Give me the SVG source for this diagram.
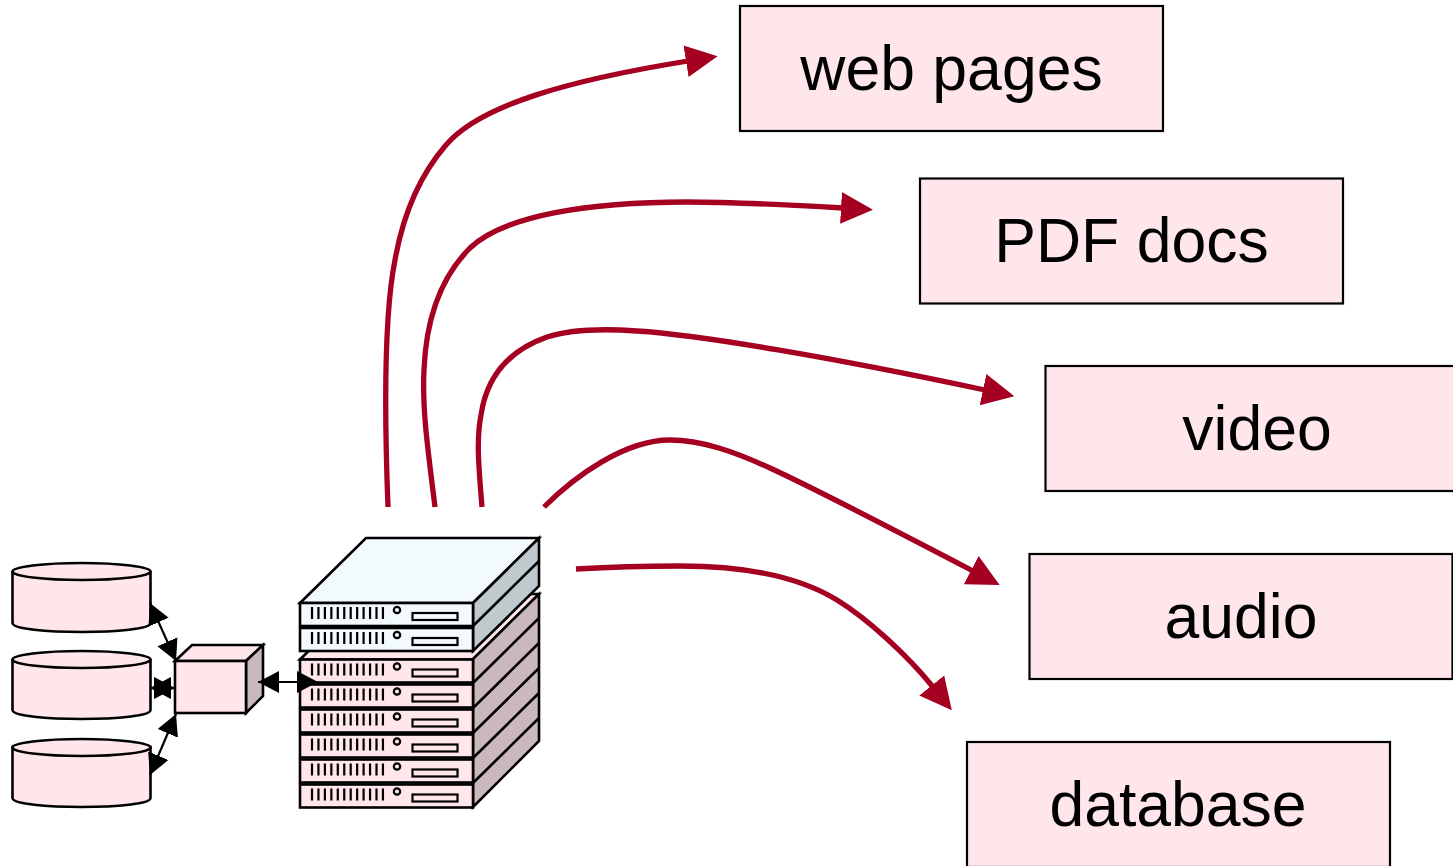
<svg xmlns="http://www.w3.org/2000/svg" xmlns:xlink="http://www.w3.org/1999/xlink" width="1453" height="866" viewBox="0 0 1453 866">
<style>
.box{fill:#FFE6EA;stroke:#000;stroke-width:2.2}
.lbl{font-family:"Liberation Sans",Arial,sans-serif;font-size:62.500px;fill:#000;text-anchor:middle}
.s{stroke:#000;stroke-width:2.600;stroke-linejoin:miter}
.pink{fill:#FFE6EA}.blue{fill:#F2FAFE}.pside{fill:#CBB8BC}.bside{fill:#BFC9CE}
.slot{stroke:#000;stroke-width:2.200;fill:none}
.curve{fill:none;stroke:#A50021;stroke-width:5.300}
.link{fill:none;stroke:#000;stroke-width:2.200}
</style>
<defs>
<marker id="red" markerUnits="userSpaceOnUse" markerWidth="34" markerHeight="36" refX="2" refY="18" orient="auto"><path d="M0,2 L32,18 L0,34 Z" fill="#A50021"/></marker>
<marker id="blk" markerUnits="userSpaceOnUse" markerWidth="24" markerHeight="24" refX="21" refY="12" orient="auto-start-reverse"><path d="M0,1 L21,12 L0,23 Z" fill="#000"/></marker>
<g id="face">
<path d="M12,4V16M18.450,4V16M24.900,4V16M31.350,4V16M37.800,4V16M44.250,4V16M50.700,4V16M57.150,4V16M63.600,4V16M70.050,4V16M76.500,4V16M82.950,4V16" class="slot"/>
<circle cx="97" cy="7" r="3.200" fill="none" stroke="#000" stroke-width="2.200"/>
<rect x="112.500" y="10" width="45" height="7" fill="none" stroke="#000" stroke-width="2.200"/>
</g>
<rect id="pplate" width="173" height="23" class="pink s"/>
<rect id="bplate" width="173" height="23" class="blue s"/>
</defs>
<g id="boxes">
<g id="web-pages"><rect class="box" x="740" y="6" width="423" height="125"/><text class="lbl" x="951.500" y="89.500">web pages</text></g>
<g id="pdf-docs"><rect class="box" x="920" y="178.500" width="423" height="125"/><text class="lbl" x="1131.500" y="261.500">PDF docs</text></g>
<g id="video"><rect class="box" x="1045.500" y="366" width="423" height="125"/><text class="lbl" x="1257" y="449.500">video</text></g>
<g id="audio"><rect class="box" x="1029.500" y="554" width="423" height="125"/><text class="lbl" x="1241" y="637.500">audio</text></g>
<g id="database"><rect class="box" x="967" y="742" width="423" height="125"/><text class="lbl" x="1178" y="825.500">database</text></g>
</g>
<g id="db1"><path class="pink s" d="M12.500,572 V623 C12.500,635 150.500,635 150.500,623 V572 Z"/><ellipse class="pink s" cx="81.500" cy="571.500" rx="69" ry="8.500"/></g>
<g id="db2"><path class="pink s" d="M12.500,660 V710 C12.500,722 150.500,722 150.500,710 V660 Z"/><ellipse class="pink s" cx="81.500" cy="659.500" rx="69" ry="8.500"/></g>
<g id="db3"><path class="pink s" d="M12.500,747 V798 C12.500,810 150.500,810 150.500,798 V747 Z"/><ellipse class="pink s" cx="81.500" cy="747.500" rx="69" ry="8.500"/></g>
<g id="switch">
<path class="pink s" d="M175,661 L192,645 H263 L246,661 Z"/>
<path class="pside s" d="M246,661 L263,645 V696 L246,713 Z"/>
<rect class="pink s" x="175" y="661" width="71" height="52"/>
</g>
<g id="server-stack">
<path class="pink s" d="M300,659.500 L366,594 H539 L473,659.500 Z"/>
<path class="pside s" d="M473,659 L539,594 V741 L473,807 Z"/>
<path class="s" fill="none" d="M473,683 L539,618M473,708 L539,643M473,733 L539,668M473,758 L539,693M473,783 L539,718"/>
<use xlink:href="#pplate" x="300" y="659.500"/><use xlink:href="#face" x="300" y="659.500"/>
<use xlink:href="#pplate" x="300" y="684.500"/><use xlink:href="#face" x="300" y="684.500"/>
<use xlink:href="#pplate" x="300" y="709.500"/><use xlink:href="#face" x="300" y="709.500"/>
<use xlink:href="#pplate" x="300" y="734.500"/><use xlink:href="#face" x="300" y="734.500"/>
<use xlink:href="#pplate" x="300" y="759.500"/><use xlink:href="#face" x="300" y="759.500"/>
<use xlink:href="#pplate" x="300" y="784.500"/><use xlink:href="#face" x="300" y="784.500"/>
<path class="blue s" d="M300,603 L366,538 H539 L473,603 Z"/>
<path class="bside s" d="M473,603 L539,538 V586 L473,651 Z"/>
<path class="s" fill="none" d="M473,626 L539,561"/>
<use xlink:href="#bplate" x="300" y="603"/><use xlink:href="#face" x="300" y="603"/>
<use xlink:href="#bplate" x="300" y="628"/><use xlink:href="#face" x="300" y="628"/>
</g>
<g id="connectors">
<path class="curve" marker-end="url(#red)" d="M388,507 C385,430 383,320 395,260 C403,215 420,175 446,145 C480,105 570,80 688,61"/>
<path class="curve" marker-end="url(#red)" d="M435,507 C428,450 422,410 424,370 C426,320 440,278 470,248 C505,215 590,202 687,202 C730,202 790,205 843,208"/>
<path class="curve" marker-end="url(#red)" d="M482,507 C479,470 476,440 481,415 C487,375 510,350 547,337 C575,328 610,329 637,331 C700,335 830,357 985,390"/>
<path class="curve" marker-end="url(#red)" d="M544,507 C575,476 625,440 670,440 C702,440 735,452 770,468 C805,484 860,512 973,571"/>
<path class="curve" marker-end="url(#red)" d="M576,569 C610,567 650,566 680,566 C725,566 790,571 837,600 C868,619 908,656 933,687"/>
<path class="link" marker-start="url(#blk)" marker-end="url(#blk)" d="M150,603 L176,661"/>
<path class="link" marker-start="url(#blk)" marker-end="url(#blk)" d="M150,688 L175,688"/>
<path class="link" marker-start="url(#blk)" marker-end="url(#blk)" d="M150,775 L176,714"/>
<path class="link" marker-start="url(#blk)" marker-end="url(#blk)" d="M258,682 L318,682"/>
</g>
</svg>
